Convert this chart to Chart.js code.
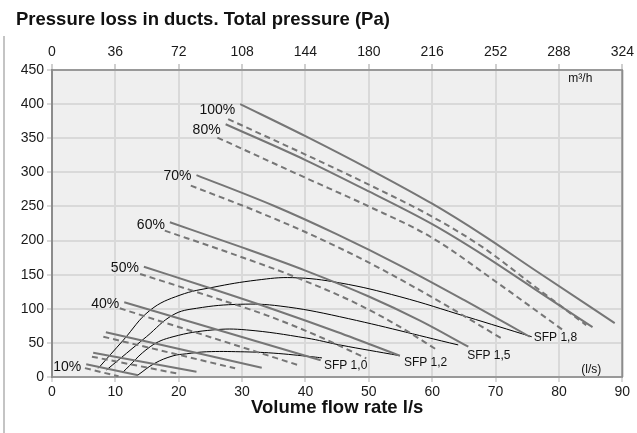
<!DOCTYPE html>
<html>
<head>
<meta charset="utf-8">
<title>Pressure loss in ducts</title>
<script src="https://cdn.jsdelivr.net/npm/chart.js@4.4.0/dist/chart.umd.min.js"></script>
<style>
  html, body { margin: 0; padding: 0; background: #fff; }
  #wrap { width: 637px; height: 433px; position: relative; }
</style>
</head>
<body>
<div id="wrap"><canvas id="chart" width="637" height="433"></canvas></div>
<script>
// fan curves, [flow l/s, total pressure Pa]
const solid100 = [[29.7, 400], [40, 353], [50, 305], [60, 254], [68, 208], [76, 158], [88.8, 79]];
const dashed100 = [[27.8, 378], [40, 326], [50, 282], [60, 235], [68, 190], [76, 134], [84.3, 76]];
const solid80 = [[27.4, 370.5], [40, 318], [50, 272], [60, 224], [68, 179], [76, 130], [85.3, 73]];
const dashed80 = [[26.1, 351], [40, 292], [50, 250], [60, 204], [70, 140], [80.6, 69]];
const solid70 = [[22.8, 296], [35, 251], [45, 209], [55, 163], [65, 113], [75.4, 59]];
const dashed70 = [[21.9, 280.5], [32, 244], [42, 204], [52, 158], [62, 106], [70.9, 56.7]];
const solid60 = [[18.6, 226.8], [30, 190], [40, 156], [50, 118], [58, 83], [65.7, 44.4]];
const dashed60 = [[17.8, 214.5], [28, 182], [38, 148], [48, 108], [55, 73], [60.7, 40]];
const solid50 = [[14.5, 161.7], [25, 130], [35, 99], [45, 66], [54.9, 31.2]];
const dashed50 = [[13.9, 151], [24, 121], [34, 90], [42, 60], [49.6, 27.4]];
const solid40 = [[11.4, 109.5], [42.4, 24.5]];
const dashed40 = [[10.7, 100.7], [38.8, 17.6]];
const solid30 = [[8.5, 65.5], [33.1, 13.6]];
const dashed30 = [[8.1, 59], [28.9, 12.7]];
const solid20 = [[6.5, 35.6], [22.8, 7.8]];
const dashed20 = [[6.3, 29.8], [19.6, 5.4]];
const solid10 = [[5.4, 18.6], [13.6, 2.5]];
const dashed10 = [[5.2, 13], [10.5, 1]];

// specific fan power lines
const sfp10 = [[13.5, 2.5], [16.2, 20], [19.1, 31], [21.2, 34], [24.4, 37], [29.7, 37], [34.9, 35], [41.2, 29.5], [42.6, 28]];
const sfp12 = [[11.1, 6.3], [15.5, 44.4], [19.1, 59], [25.4, 69], [30.7, 69], [40.2, 57], [45.4, 47], [54.9, 31.2]];
const sfp15 = [[8.6, 10.3], [14.9, 59], [19.1, 91], [22.8, 100.7], [29.7, 106.6], [36, 104], [45.4, 88.4], [64.1, 47]];
const sfp18 = [[7.3, 12.7], [11.25, 54], [15.5, 98], [20.2, 120], [25.4, 131.5], [32.3, 142], [38, 145.6], [45.4, 138], [54.9, 117.7], [65.4, 88.4], [75.7, 59]];

const flowMax = 90;
const pressureMax = 450;
const m3hMax = 324;

const FONT = "'Liberation Sans', Arial, sans-serif";
const GREY = '#767676';

const toXY = pts => pts.map(([x, y]) => ({x, y}));

function fanLine(pts, dashed, tag, tagDy) {
  return {
    data: toXY(pts),
    borderColor: GREY,
    borderWidth: 2,
    borderDash: dashed ? [6, 4] : [],
    cubicInterpolationMode: 'monotone',
    tag, tagDy: tagDy || 3
  };
}

function sfpLine(pts, tag, dx, dy) {
  return {
    data: toXY(pts),
    borderColor: '#000',
    borderWidth: 1,
    tension: 0.4,
    sfpTag: tag, dx, dy
  };
}

const datasets = [
  fanLine(solid100, false, '100%', 6), fanLine(dashed100, true),
  fanLine(solid80, false, '80%', 6), fanLine(dashed80, true),
  fanLine(solid70, false, '70%', 1), fanLine(dashed70, true),
  fanLine(solid60, false, '60%', 0), fanLine(dashed60, true),
  fanLine(solid50, false, '50%', 1), fanLine(dashed50, true),
  fanLine(solid40, false, '40%', 2), fanLine(dashed40, true),
  fanLine(solid30, false), fanLine(dashed30, true),
  fanLine(solid20, false), fanLine(dashed20, true),
  fanLine(solid10, false, '10%', 3), fanLine(dashed10, true),
  sfpLine(sfp10, 'SFP 1,0', 2, 8),
  sfpLine(sfp12, 'SFP 1,2', 4, 7),
  sfpLine(sfp15, 'SFP 1,5', 9, 11),
  sfpLine(sfp18, 'SFP 1,8', 2, 1)
];

// background, frame and the free text on the chart
const decor = {
  id: 'decor',
  beforeDraw(chart) {
    const {ctx, chartArea: a} = chart;
    ctx.save();
    ctx.fillStyle = '#efefef';
    ctx.fillRect(a.left, a.top, a.right - a.left, a.bottom - a.top);
    ctx.strokeStyle = '#c4c4c4';
    ctx.lineWidth = 2;
    ctx.beginPath();
    ctx.moveTo(4, 36);
    ctx.lineTo(4, 433);
    ctx.stroke();
    ctx.restore();
  },
  beforeDatasetsDraw(chart) {
    const {ctx, chartArea: a} = chart;
    ctx.save();
    ctx.strokeStyle = '#8c8c8c';
    ctx.lineWidth = 2;
    ctx.beginPath();
    ctx.moveTo(a.right, a.top);
    ctx.lineTo(a.right, a.bottom);
    ctx.stroke();
    ctx.restore();
  },
  afterDraw(chart) {
    const {ctx, chartArea: a, scales} = chart;
    const xs = scales.x, ys = scales.y;
    ctx.save();
    ctx.fillStyle = '#111';
    ctx.textBaseline = 'middle';

    ctx.font = 'bold 18.5px ' + FONT;
    ctx.textAlign = 'left';
    ctx.fillText('Pressure loss in ducts. Total pressure (Pa)', 16, 20);

    ctx.font = '12px ' + FONT;
    ctx.textAlign = 'right';
    ctx.fillText('m³/h', a.right - 30, a.top + 9);
    ctx.fillText('(l/s)', a.right - 21, a.bottom - 7);

    chart.data.datasets.forEach(ds => {
      if (ds.tag) {
        const p = ds.data[0];
        ctx.font = '14px ' + FONT;
        ctx.textAlign = 'right';
        ctx.fillText(ds.tag, xs.getPixelForValue(p.x) - 5, ys.getPixelForValue(p.y) + ds.tagDy);
      }
      if (ds.sfpTag) {
        const p = ds.data[ds.data.length - 1];
        ctx.font = '12px ' + FONT;
        ctx.textAlign = 'left';
        ctx.fillText(ds.sfpTag, xs.getPixelForValue(p.x) + ds.dx, ys.getPixelForValue(p.y) + ds.dy);
      }
    });
    ctx.restore();
  }
};

Chart.defaults.font.family = FONT;
Chart.defaults.font.size = 14;
Chart.defaults.color = '#1a1a1a';

new Chart(document.getElementById('chart'), {
  type: 'scatter',
  data: {datasets},
  options: {
    responsive: false,
    animation: false,
    showLine: true,
    elements: {point: {radius: 0, hoverRadius: 0}},
    layout: {padding: {top: 0, left: 0, right: 14, bottom: 0}},
    plugins: {legend: {display: false}, tooltip: {enabled: false}},
    scales: {
      x: {
        type: 'linear',
        position: 'bottom',
        min: 0, max: flowMax,
        ticks: {stepSize: 10, padding: 2},
        grid: {color: '#d9d9d9', lineWidth: 2, tickLength: 5},
        border: {color: '#999', width: 2},
        title: {display: true, text: 'Volume flow rate l/s', font: {size: 18.5, weight: 'bold'}, color: '#111', padding: {top: 4, bottom: 14}},
        afterFit: s => { s.height = 56; }
      },
      x2: {
        type: 'linear',
        position: 'top',
        min: 0, max: m3hMax,
        ticks: {stepSize: 36, padding: 3},
        grid: {drawOnChartArea: false, color: '#cfcfcf', lineWidth: 2, tickLength: 6},
        border: {color: '#999', width: 2},
        afterFit: s => { s.height = 70; }
      },
      y: {
        min: 0, max: pressureMax,
        ticks: {stepSize: 50, padding: 3},
        grid: {color: '#d9d9d9', lineWidth: 2, tickLength: 5},
        border: {color: '#8c8c8c', width: 2},
        afterFit: s => { s.width = 52; }
      }
    }
  },
  plugins: [decor]
});
</script>
</body>
</html>
